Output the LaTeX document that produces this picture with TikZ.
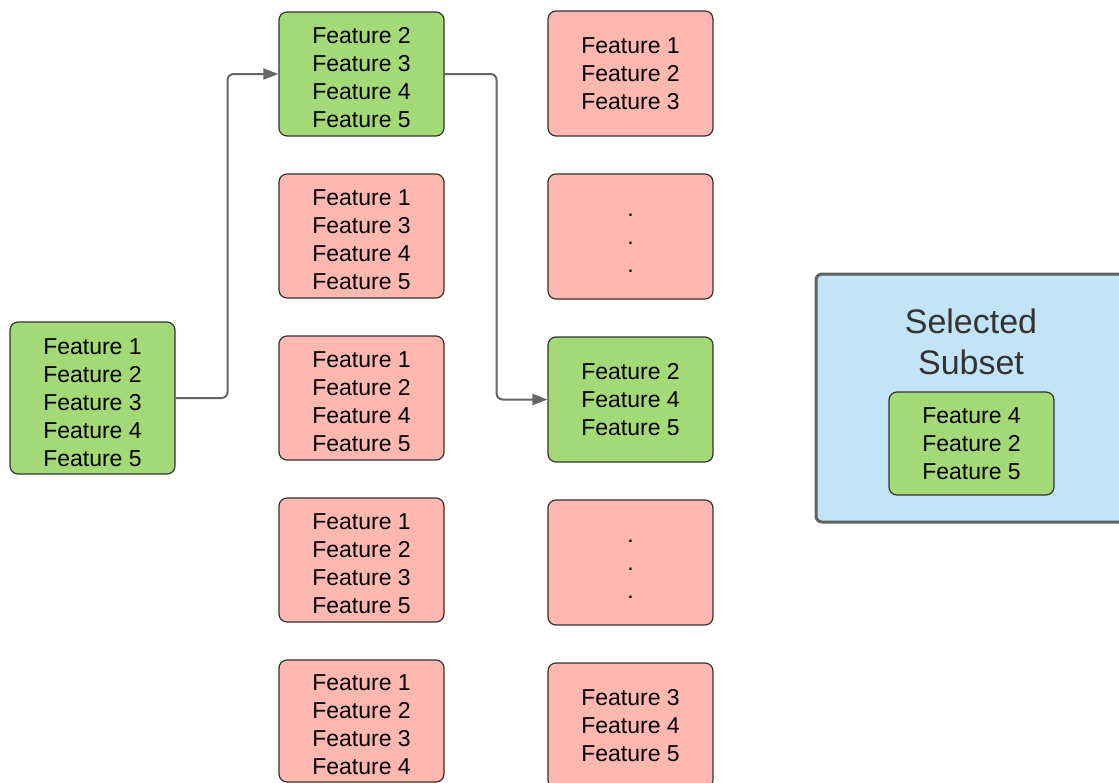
\documentclass[tikz,border=0pt]{standalone}
\usepackage{fontspec}
\setmainfont{Liberation Sans}
\usetikzlibrary{arrows.meta}
\definecolor{gfill}{HTML}{A3D977}
\definecolor{rfill}{HTML}{FFB8AF}
\definecolor{bfill}{HTML}{C2E4F6}
\definecolor{bord}{HTML}{333333}
\definecolor{arr}{HTML}{666666}
\definecolor{titlec}{HTML}{333333}
\newcommand{\topst}[1]{\rule{0pt}{#1}}
\tikzset{
  fbox/.style={draw=bord, line width=1.2pt, rounded corners=8pt, minimum width=165pt, minimum height=124pt, align=center, inner sep=0pt, font=\fontsize{23}{28}\selectfont},
  gbox/.style={fbox, fill=gfill},
  rbox/.style={fbox, fill=rfill},
  conn/.style={draw=arr, line width=2pt, rounded corners=6pt, -{Triangle[length=15pt,width=11pt]}},
}
\begin{document}
\begin{tikzpicture}[x=1pt,y=-1pt]
\useasboundingbox (0,0) rectangle (1119,782);
\clip (0,0) rectangle (1119,782);
% left
\node[gbox, minimum height=152pt] (L) at (92.5,398) {\topst{25.5pt}Feature 1\\Feature 2\\Feature 3\\Feature 4\\Feature 5};
% column 2
\node[gbox] (a1) at (361.5,74) {\topst{22.5pt}Feature 2\\Feature 3\\Feature 4\\Feature 5};
\node[rbox] (a2) at (361.5,236) {\topst{22.5pt}Feature 1\\Feature 3\\Feature 4\\Feature 5};
\node[rbox] (a3) at (361.5,398) {\topst{22.5pt}Feature 1\\Feature 2\\Feature 4\\Feature 5};
\node[rbox] (a4) at (361.5,560) {\topst{22.5pt}Feature 1\\Feature 2\\Feature 3\\Feature 5};
\node[rbox, minimum height=122pt] (a5) at (361.5,721) {\topst{22.5pt}Feature 1\\Feature 2\\Feature 3\\Feature 4};
% column 3
\node[rbox, minimum height=125pt] (b1) at (630.5,73.5) {Feature 1\\Feature 2\\Feature 3};
\node[rbox, minimum height=125pt] (b2) at (630.5,236.5) {\topst{16.5pt}.\\.\\.};
\node[gbox, minimum height=125pt] (b3) at (630.5,399.5) {Feature 2\\Feature 4\\Feature 5};
\node[rbox, minimum height=125pt] (b4) at (630.5,562.5) {\topst{16.5pt}.\\.\\.};
\node[rbox, minimum height=125pt] (b5) at (630.5,725.5) {Feature 3\\Feature 4\\Feature 5};
% selected subset
\node[draw=arr!95!black, line width=3pt, rounded corners=6pt, fill=bfill, minimum width=330pt, minimum height=248pt, inner sep=0pt] (S) at (981,398) {};
\node[text=titlec, align=center, font=\fontsize{34}{41}\selectfont, inner sep=0pt] (T) at (971,342) {Selected\\Subset};
\node[gbox, minimum height=103pt] (G) at (971.5,443.5) {Feature 4\\Feature 2\\Feature 5};
% connectors
\draw[conn] (L.east) -- ++(52,0) |- (a1.west);
\draw[conn] (a1.east) -- ++(52,0) |- (b3.west);
\end{tikzpicture}
\end{document}
